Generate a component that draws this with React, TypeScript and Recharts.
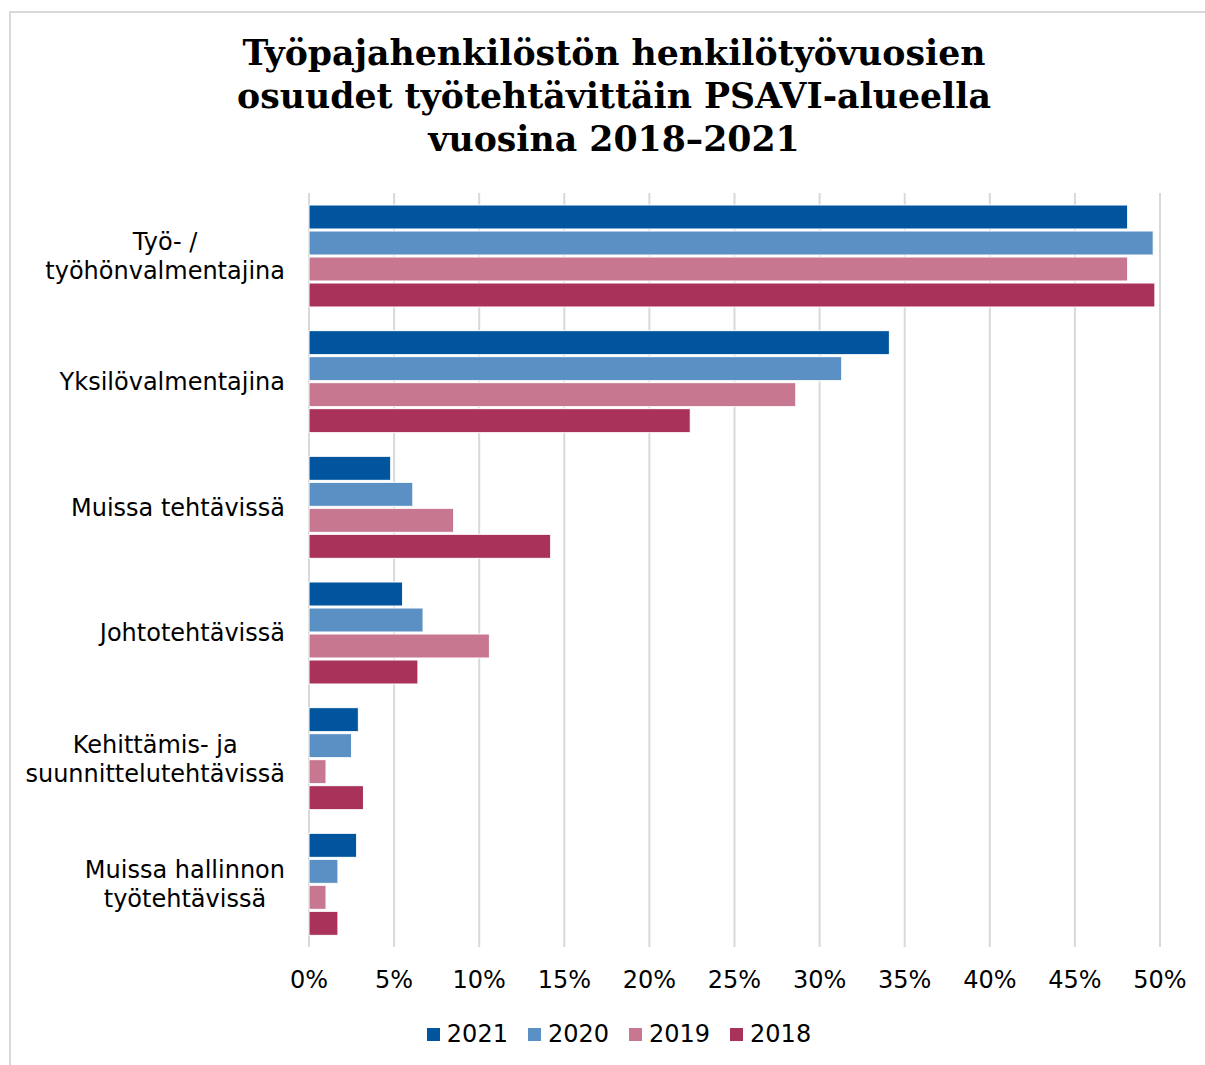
import React from 'react';
import { BarChart, Bar, XAxis, YAxis, CartesianGrid, Legend } from 'recharts';

const categories = [
  'Työ- /\ntyöhönvalmentajina',
  'Yksilövalmentajina',
  'Muissa tehtävissä',
  'Johtotehtävissä',
  'Kehittämis- ja\nsuunnittelutehtävissä',
  'Muissa hallinnon\ntyötehtävissä',
];
const years = ['2021', '2020', '2019', '2018'];
const v2021 = [48.1, 34.1, 4.8, 5.5, 2.9, 2.8];
const v2020 = [49.6, 31.3, 6.1, 6.7, 2.5, 1.7];
const v2019 = [48.1, 28.6, 8.5, 10.6, 1.0, 1.0];
const v2018 = [49.7, 22.4, 14.2, 6.4, 3.2, 1.7];
const xTicks = [0, 5, 10, 15, 20, 25, 30, 35, 40, 45, 50];

const colors: Record<string, string> = {
  '2021': '#00559e',
  '2020': '#5b90c4',
  '2019': '#c77890',
  '2018': '#a8325a',
};

const FONT = '"DejaVu Sans", Verdana, sans-serif';
const FS = 24;

const data = categories.map((c, i) => ({
  name: c,
  '2021': v2021[i],
  '2020': v2020[i],
  '2019': v2019[i],
  '2018': v2018[i],
}));

let ctx: CanvasRenderingContext2D | null = null;
function textWidth(s: string) {
  if (!ctx) ctx = document.createElement('canvas').getContext('2d');
  if (!ctx) return s.length * FS * 0.55;
  ctx.font = `${FS}px ${FONT}`;
  return ctx.measureText(s).width;
}

function CategoryTick(props: any) {
  const { x, y, payload } = props;
  const lines: string[] = String(payload.value).split('\n');
  const maxW = Math.max(...lines.map(textWidth));
  const cx = x - 16 - maxW / 2;
  const lh = 29;
  const start = y - ((lines.length - 1) * lh) / 2;
  return (
    <text textAnchor="middle" fontFamily={FONT} fontSize={FS} fill="#000">
      {lines.map((l, i) => (
        <tspan key={i} x={cx} y={start + i * lh} dy="0.36em">
          {l}
        </tspan>
      ))}
    </text>
  );
}

function LegendContent() {
  return (
    <div style={{ display: 'flex', justifyContent: 'center', paddingLeft: 53, fontFamily: FONT, fontSize: FS }}>
      {years.map((y) => (
        <div key={y} style={{ display: 'flex', alignItems: 'center', marginRight: 20 }}>
          <span style={{ width: 13, height: 13, background: colors[y], display: 'inline-block', marginRight: 7 }} />
          <span style={{ color: '#000' }}>{y}</span>
        </div>
      ))}
    </div>
  );
}

export default function App() {
  return (
    <div style={{ position: 'absolute', left: 0, top: 0, width: 1205, height: 1065, background: '#fff', overflow: 'hidden' }}>
      <div
        style={{
          position: 'absolute',
          left: 9,
          top: 11,
          width: 1300,
          height: 1200,
          borderTop: '2px solid #d9d9d9',
          borderLeft: '2px solid #d9d9d9',
        }}
      />
      <div
        style={{
          position: 'absolute',
          left: 0,
          top: 31,
          width: 1228,
          textAlign: 'center',
          fontFamily: '"DejaVu Serif", Georgia, serif',
          fontWeight: 'bold',
          fontSize: 34.7,
          lineHeight: '43px',
          color: '#000',
        }}
      >
        Työpajahenkilöstön henkilötyövuosien
        <br />
        osuudet työtehtävittäin PSAVI-alueella
        <br />
        vuosina 2018–2021
      </div>
      <div style={{ position: 'absolute', left: 0, top: 0 }}>
        <BarChart
          width={1205}
          height={1065}
          data={data}
          layout="vertical"
          margin={{ top: 193, right: 45, bottom: 50, left: 0 }}
          barSize={24}
          barGap={2}
        >
          <CartesianGrid horizontal={false} stroke="#d9d9d9" strokeWidth={2} />
          <XAxis
            type="number"
            domain={[0, 50]}
            ticks={xTicks}
            tickFormatter={(v) => `${v}%`}
            axisLine={false}
            tickLine={false}
            height={40}
            tick={{ fontFamily: FONT, fontSize: FS, fill: '#000', dy: 16 }}
          />
          <YAxis
            type="category"
            dataKey="name"
            width={309}
            axisLine={false}
            tickLine={false}
            tick={<CategoryTick />}
          />
          <Legend
            verticalAlign="bottom"
            content={<LegendContent />}
            wrapperStyle={{ top: 1020, bottom: 'auto', left: 0, width: 1205 }}
          />
          {years.map((y) => (
            <Bar key={y} dataKey={y} fill={colors[y]} stroke="#fff" strokeWidth={1} isAnimationActive={false} />
          ))}
        </BarChart>
      </div>
    </div>
  );
}
